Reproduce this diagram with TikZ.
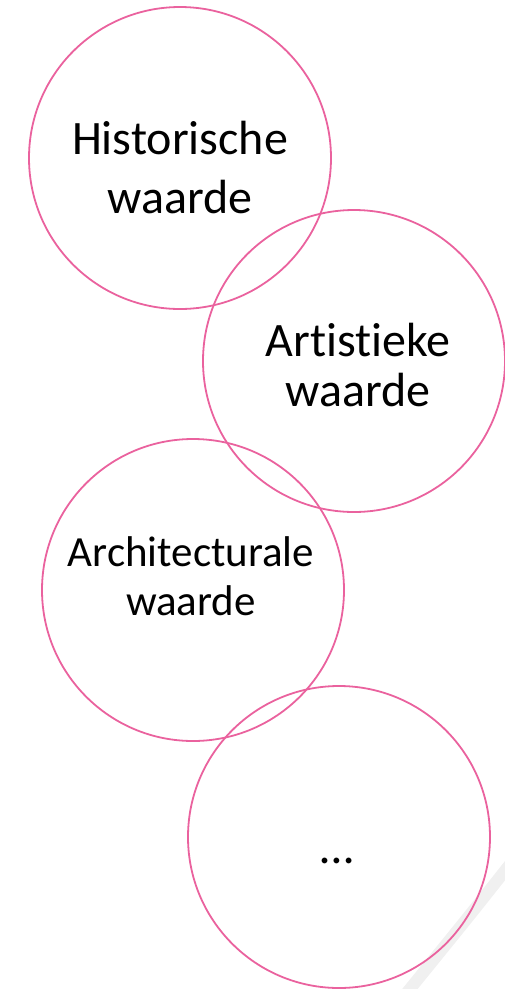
\documentclass[tikz,border=0pt]{standalone}
\usepackage{fontspec}
\setmainfont{Carlito}[Ligatures=NoCommon]
\usepackage{xcolor}
\definecolor{ringpink}{RGB}{234,98,158}
\usetikzlibrary{positioning}

\begin{document}
\begin{tikzpicture}[x=1pt,y=-1pt,
  ring/.style={draw=ringpink,line width=1.8pt,circle,minimum size=302pt,inner sep=0pt},
  bigtext/.style={align=center,font=\fontsize{48}{59}\selectfont},
  midtext/.style={align=center,font=\fontsize{48}{50}\selectfont},
  smalltext/.style={align=center,font=\fontsize{43}{49}\selectfont}]
\useasboundingbox (0,0) rectangle (505,989);
% faint band, bottom right
\draw[gray!12,line width=12pt] (515,858) .. controls (470,915) .. (405,995);

\node[ring] (hist) at (180,158) {};
\node[ring] (art) at (354,361) {};
\node[ring] (arch) at (193,590) {};
\node[ring] (more) at (339,837) {};

\node[bigtext] (histtxt) at (180,168) {Historische\\waarde};
\node[midtext] (arttxt) at (358,365) {Artistieke\\waarde};
\node[smalltext] (archtxt) at (191,576) {Architecturale\\waarde};
\node[bigtext] (moretxt) at (337,861) {\dots};
\end{tikzpicture}
\end{document}
